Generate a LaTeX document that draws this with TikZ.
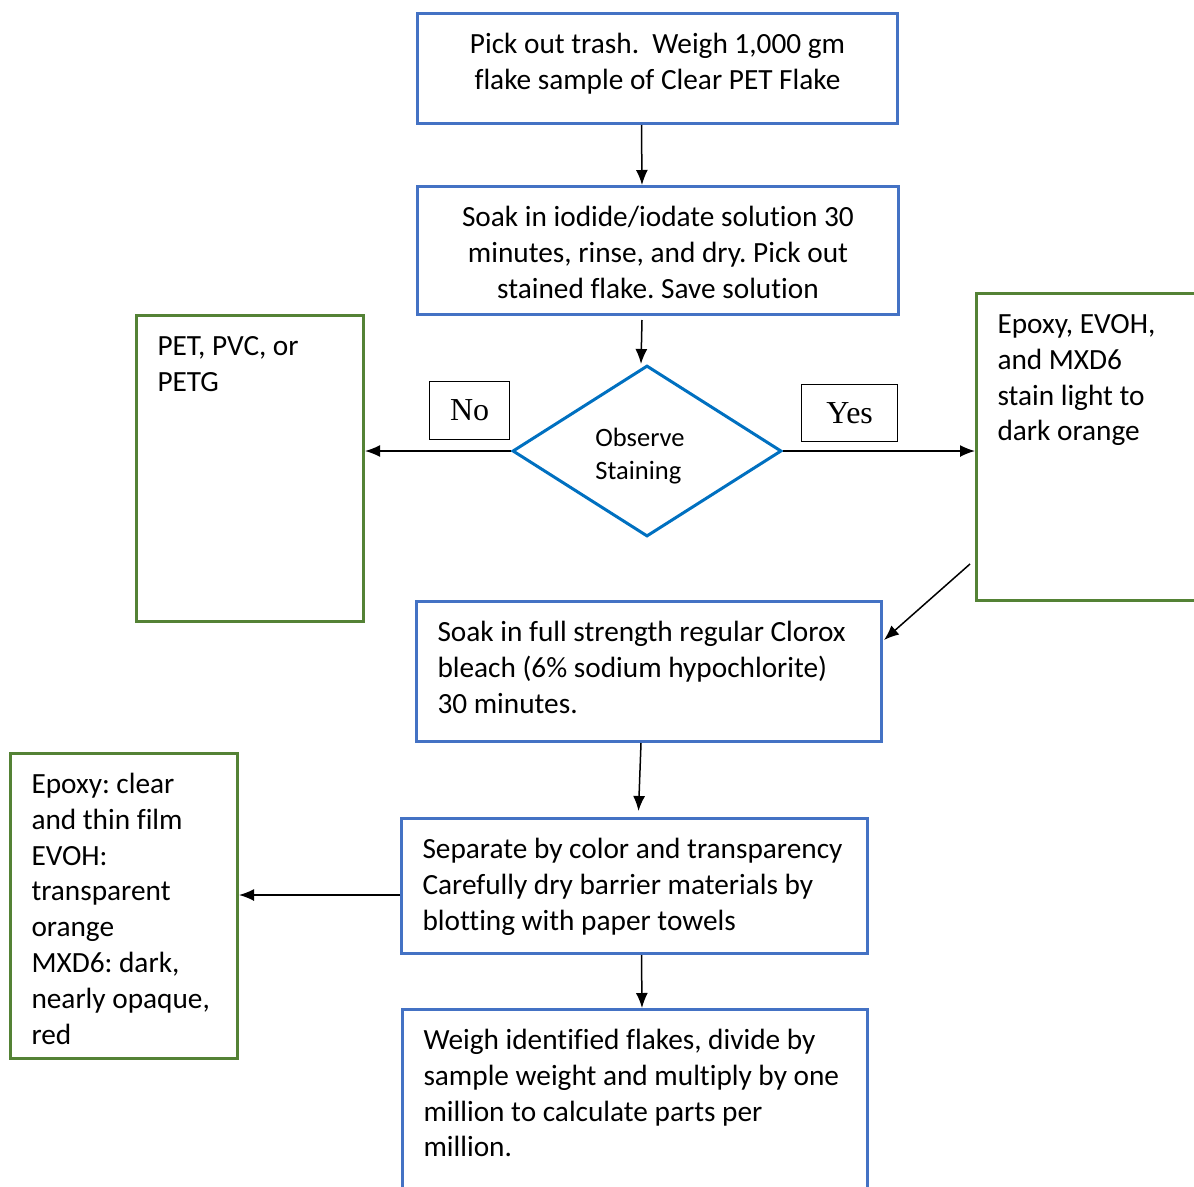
\documentclass[tikz,border=0pt]{standalone}
\usepackage{fontspec}
\setmainfont{Carlito}[Ligatures=NoCommon]
\newfontfamily\timesf{Liberation Serif}
\usetikzlibrary{shapes.geometric,arrows.meta}
\definecolor{boxblue}{RGB}{68,114,196}
\definecolor{dblue}{RGB}{0,112,192}
\definecolor{gboxc}{RGB}{84,130,53}
\frenchspacing
\newcommand\lbox[3]{\parbox[c][#2pt][t]{#1pt}{\raggedright\leftskip=21pt\relax\vspace*{15pt}\strut #3}}
\newcommand\cbox[3]{\parbox[c][#2pt][t]{#1pt}{\centering\vspace*{15pt}\strut #3}}
\begin{document}
\begin{tikzpicture}[x=1pt,y=-1pt,
  font=\fontsize{29.3}{35.8}\selectfont,
  bluebox/.style={draw=boxblue, line width=3pt, inner sep=0pt, anchor=north west},
  greenbox/.style={draw=gboxc, line width=3pt, inner sep=0pt, anchor=north west},
  lblbox/.style={draw=black, line width=1.3pt, inner sep=0pt, anchor=north west, font=\timesf\fontsize{32}{38}\selectfont},
  arr/.style={-{Latex[length=15pt,width=12pt]}, line width=1.5pt}]
\useasboundingbox (0,0) rectangle (1194,1186);
\clip (0,0) rectangle (1194,1186);
% boxes
\node[bluebox] (b1) at (416,12) {\cbox{480}{110}{Pick out trash.\ \ Weigh 1,000 gm\\flake sample of Clear PET Flake}};
\node[bluebox] (b2) at (416,185) {\cbox{481}{128}{Soak in iodide/iodate solution 30\\minutes, rinse, and dry. Pick out\\stained flake. Save solution}};
\node[greenbox] (g1) at (135,314) {\lbox{227}{306}{PET, PVC, or\\PETG}};
\node[greenbox] (g2) at (975,292) {\lbox{260}{307}{Epoxy, EVOH,\\and MXD6\\stain light to\\dark orange}};
\node[diamond, draw=dblue, line width=3pt, minimum width=269pt, minimum height=171pt, inner sep=0pt] (d) at (647,451) {};
\node[font=\fontsize{26.5}{32.5}\selectfont, align=left, inner sep=0pt] (dt) at (640,456) {Observe\\Staining};
\node[lblbox, minimum width=80pt, minimum height=58pt] (no) at (429,381) {No};
\node[lblbox, minimum width=96pt, minimum height=57pt] (yes) at (801,384) {Yes};
\node[bluebox] (b3) at (415,600) {\lbox{465}{140}{Soak in full strength regular Clorox\\bleach (6\% sodium hypochlorite)\\30 minutes.}};
\node[bluebox] (b4) at (400,817) {\lbox{466}{135}{Separate by color and transparency\\Carefully dry barrier materials by\\blotting with paper towels}};
\node[greenbox] (g3) at (9,752) {\lbox{227}{305}{Epoxy: clear\\and thin film\\EVOH:\\transparent\\orange\\MXD6: dark,\\nearly opaque,\\red}};
\node[bluebox] (b5) at (401,1008) {\lbox{465}{231}{Weigh identified flakes, divide by\\sample weight and multiply by one\\million to calculate parts per\\million.}};
% connectors
\draw[arr] ([xshift=-16pt]b1.south) -- ([xshift=-16pt]b2.north);
\draw[arr] ([xshift=-16pt,yshift=-4pt]b2.south) -- ([xshift=-6pt]d.north);
\draw[arr] (d.west) -- (d.west -| g1.east);
\draw[arr] (d.east) -- (d.east -| g2.west);
\draw[arr] ([xshift=-5pt,yshift=38pt]g2.south west) -- ([xshift=1pt,yshift=-40pt]b3.north east);
\draw[arr] ([xshift=-8pt]b3.south) -- ([xshift=4pt,yshift=6pt]b4.north);
\coordinate (c4) at ([yshift=-9pt]b4.west);
\draw[arr] (c4) -- (c4 -| g3.east);
\draw[arr] ([xshift=7pt]b4.south) -- ([xshift=7pt]b5.north);
\end{tikzpicture}
\end{document}
